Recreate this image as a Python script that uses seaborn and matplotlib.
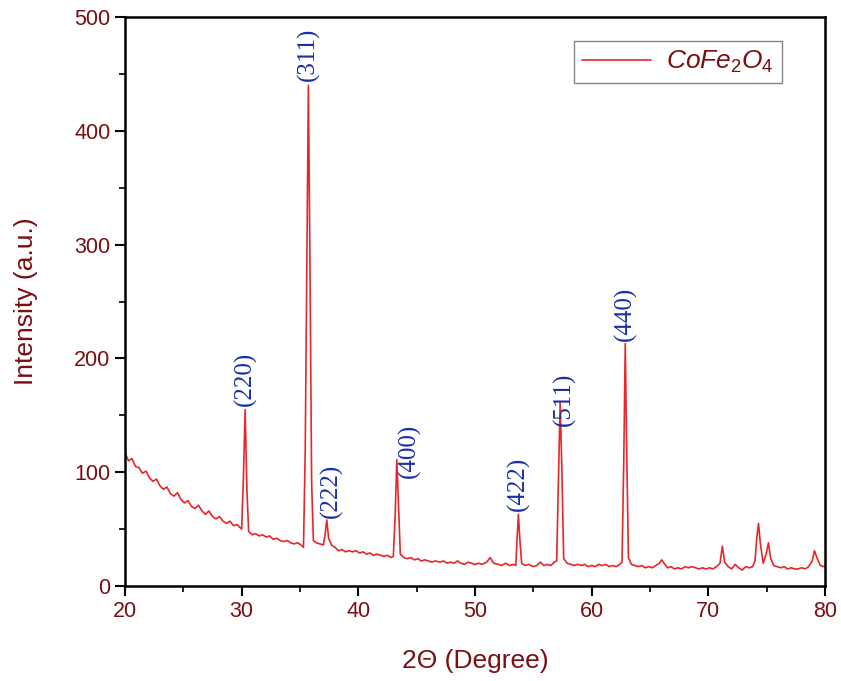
import pandas as pd
import seaborn as sns
import matplotlib
matplotlib.use('Agg')
import matplotlib.pyplot as plt

# XRD pattern (2theta in degree, intensity a.u.)
two_theta = [20.0, 20.3, 20.6, 20.9, 21.2, 21.5, 21.8, 22.1, 22.4, 22.7, 23.0, 23.3, 23.6, 23.9,
             24.2, 24.5, 24.8, 25.1, 25.4, 25.7, 26.0, 26.3, 26.6, 26.9, 27.2, 27.5, 27.8, 28.1,
             28.4, 28.7, 29.0, 29.3, 29.6, 29.9, 30.0, 30.15, 30.3, 30.45, 30.6, 30.9, 31.2, 31.5,
             31.8, 32.1, 32.4, 32.7, 33.0, 33.3, 33.6, 33.9, 34.2, 34.5, 34.8, 35.1, 35.3, 35.45,
             35.6, 35.72, 35.85, 36.0, 36.15, 36.4, 36.7, 37.0, 37.15, 37.3, 37.45, 37.7, 38.0,
             38.3, 38.6, 38.9, 39.2, 39.5, 39.8, 40.1, 40.4, 40.7, 41.0, 41.3, 41.6, 41.9, 42.2,
             42.5, 42.8, 43.0, 43.15, 43.3, 43.45, 43.6, 43.9, 44.2, 44.5, 44.8, 45.1, 45.4, 45.7,
             46.0, 46.3, 46.6, 47.0, 47.3, 47.6, 47.9, 48.2, 48.5, 48.8, 49.1, 49.4, 49.7, 50.0,
             50.3, 50.6, 51.0, 51.3, 51.6, 52.0, 52.3, 52.6, 53.0, 53.3, 53.5, 53.6, 53.72, 53.85,
             54.0, 54.3, 54.6, 55.0, 55.3, 55.6, 55.9, 56.2, 56.5, 56.8, 57.0, 57.15, 57.3, 57.45,
             57.6, 57.9, 58.2, 58.5, 58.8, 59.1, 59.4, 59.7, 60.0, 60.3, 60.6, 60.9, 61.2, 61.5,
             61.8, 62.1, 62.4, 62.6, 62.75, 62.88, 63.0, 63.15, 63.4, 63.7, 64.0, 64.3, 64.6, 64.9,
             65.2, 65.5, 65.8, 66.0, 66.2, 66.5, 66.8, 67.1, 67.4, 67.7, 68.0, 68.3, 68.6, 68.9,
             69.2, 69.5, 69.8, 70.1, 70.4, 70.7, 71.0, 71.2, 71.4, 71.7, 72.0, 72.3, 72.6, 72.9,
             73.2, 73.5, 73.8, 74.0, 74.15, 74.3, 74.45, 74.7, 74.95, 75.15, 75.35, 75.6, 75.9,
             76.2, 76.5, 76.8, 77.1, 77.4, 77.7, 78.0, 78.3, 78.6, 78.9, 79.1, 79.3, 79.6, 79.9, 80.0]
intensity = [117, 110, 112, 105, 104, 99, 101, 95, 92, 94, 88, 85, 87, 81,
             79, 82, 76, 73, 75, 70, 68, 71, 66, 63, 66, 61, 59, 61,
             57, 55, 57, 53, 54, 51, 50, 95, 155, 85, 48, 45, 46, 44,
             45, 43, 44, 41, 42, 40, 39, 40, 38, 37, 38, 36, 34, 120,
             300, 440, 290, 90, 40, 38, 37, 36, 45, 58, 42, 36, 34,
             31, 32, 30, 31, 30, 31, 29, 30, 28, 29, 27, 28, 27, 26,
             27, 25, 26, 60, 111, 70, 28, 25, 24, 25, 23, 24, 22, 23,
             22, 21, 22, 21, 22, 20, 21, 20, 22, 20, 19, 21, 20, 19,
             20, 19, 21, 25, 20, 19, 18, 20, 18, 19, 18, 40, 63, 40,
             20, 18, 19, 17, 18, 21, 18, 19, 18, 21, 22, 90, 162, 100,
             24, 20, 19, 18, 19, 18, 19, 17, 18, 17, 19, 18, 19, 17,
             18, 17, 19, 21, 110, 213, 120, 25, 19, 18, 17, 18, 16, 17,
             16, 18, 20, 23, 20, 16, 17, 15, 16, 15, 17, 16, 17, 16,
             15, 16, 15, 16, 15, 17, 20, 35, 21, 17, 15, 19, 16, 14,
             17, 16, 17, 22, 42, 55, 38, 20, 28, 38, 24, 18, 17,
             16, 17, 15, 16, 15, 15, 16, 15, 17, 22, 31, 25, 18, 17, 17]

# peak labels (hkl) and where they sit
hkl = ['(220)', '(311)', '(222)', '(400)', '(422)', '(511)', '(440)']
hkl_x = [30.35, 35.7, 37.7, 44.4, 53.75, 57.65, 62.9]
hkl_y = [158, 444, 60, 95, 66, 141, 215]

df = pd.DataFrame({'2theta': two_theta, 'I': intensity})

sns.set_style('ticks')
plt.rcParams['font.family'] = ['Liberation Sans', 'DejaVu Sans']
plt.rcParams['mathtext.fontset'] = 'custom'
plt.rcParams['mathtext.it'] = 'Liberation Sans:italic'
plt.rcParams['mathtext.rm'] = 'Liberation Sans'

dark_red = '#7a0f12'
fig = plt.figure(figsize=(8.41, 6.81), dpi=100)
ax = fig.add_axes([0.1486, 0.1395, 0.8324, 0.8355])

sns.lineplot(data=df, x='2theta', y='I', ax=ax, color='#e8262a', linewidth=1.2,
             label=r'$CoFe_{\mathrm{2}}O_{\mathrm{4}}$')

for lab, x, y in zip(hkl, hkl_x, hkl_y):
    ax.text(x, y, lab, rotation=90, ha='center', va='bottom', color='#1a2fa8',
            fontsize=18, family='Liberation Serif')

ax.set_xlim(20, 80)
ax.set_ylim(0, 500)
ax.set_xticks(range(20, 81, 10))
ax.set_xticks(range(25, 80, 10), minor=True)
ax.set_yticks(range(0, 501, 100))
ax.set_yticks(range(50, 500, 100), minor=True)
ax.tick_params(which='major', length=7, width=1.5, colors='black', labelcolor=dark_red,
               labelsize=15.5, direction='out')
ax.tick_params(which='minor', length=4, width=1.2, colors='black', direction='out')
for s in ax.spines.values():
    s.set_linewidth(1.8)
    s.set_color('black')

ax.set_xlabel('2\u0398 (Degree)', color=dark_red, fontsize=19, labelpad=20)
ax.set_ylabel('Intensity (a.u.)', color=dark_red, fontsize=19, labelpad=26)

leg = ax.legend(loc='upper right', bbox_to_anchor=(0.9386, 0.958), borderaxespad=0,
                fontsize=19, handlelength=2.6, handletextpad=0.6, borderpad=0.3,
                fancybox=False, frameon=True)
leg.get_frame().set_edgecolor('#666666')
leg.get_frame().set_linewidth(1.0)
for t in leg.get_texts():
    t.set_color(dark_red)

plt.savefig('out.png', dpi=100)
